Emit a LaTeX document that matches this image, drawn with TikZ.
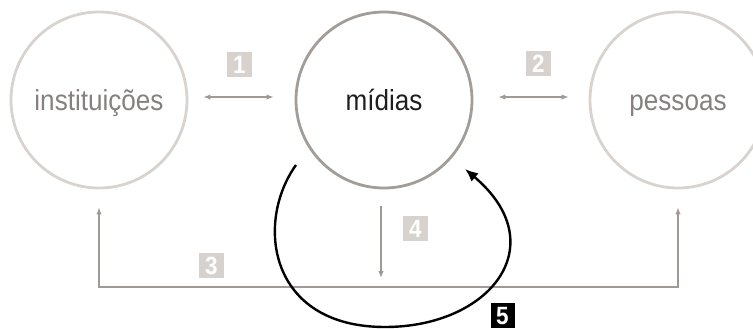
\documentclass[tikz,border=0pt]{standalone}
\usepackage{fontspec}
\setmainfont{Liberation Sans}
\newfontfamily\labelfont[FakeStretch=0.9]{Liberation Sans}
\usetikzlibrary{arrows.meta,calc}
\definecolor{lightring}{HTML}{D9D3CF}
\definecolor{midring}{HTML}{A39D99}
\definecolor{graytext}{HTML}{868080}
\definecolor{darktext}{HTML}{1E1E1E}
\definecolor{arrowgray}{HTML}{A09A96}
\definecolor{tagfill}{HTML}{D8D2CE}
\begin{document}
\begin{tikzpicture}[x=1pt,y=-1pt,
  ring/.style={circle,minimum size=176pt,inner sep=0pt,line width=2.8pt,
    font=\labelfont\fontsize{29}{32}\selectfont,text height=21pt,text depth=0pt},
  tag/.style={fill=tagfill,text=white,minimum width=25pt,minimum height=25pt,
    inner sep=0pt,font=\labelfont\fontsize{25}{28}\selectfont\bfseries,
    text height=18pt,text depth=0pt},
  thin arrow/.style={draw=arrowgray,line width=1.3pt,
    {Latex[length=7pt,width=5.5pt]}-{Latex[length=7pt,width=5.5pt]}},
  down arrow/.style={draw=arrowgray,line width=1.3pt,-{Latex[length=7pt,width=5.5pt]}},
  loop arrow/.style={draw=black,line width=2.4pt,-{Latex[length=13pt,width=11pt]}}
]
\useasboundingbox (0,0) rectangle (753,329);
\node[ring,draw=lightring,text=graytext] (inst) at (99,100) {instituições};
\node[ring,draw=midring,text=darktext] (mid) at (384,100) {mídias};
\node[ring,draw=lightring,text=graytext] (pes) at (678,100) {pessoas};

\node[tag] (t1) at (239.5,65) {1};
\node[tag] (t2) at (538.5,64) {2};
\node[tag] (t3) at (211.5,265.5) {3};
\node[tag] (t4) at (415.5,228.5) {4};
\node[tag,fill=black,minimum width=24pt,minimum height=25pt] (t5) at (502.5,315.5) {5};

\coordinate (base) at (381,287);

% arrow 1 and 2
\draw[thin arrow] ($(inst.east)+(15,-3)$) -- ($(mid.west)+(-21,-3)$);
\draw[thin arrow] ($(mid.east)+(25,-3)$) -- ($(pes.west)+(-20,-3)$);
% arrow 3
\draw[thin arrow] ([yshift=-18pt]inst.south) -- (inst.south |- base) -- (pes.south |- base) -- ([yshift=-18pt]pes.south);
% arrow 4
\draw[down arrow] ([xshift=-3pt,yshift=-17pt]mid.south) -- ([yshift=9pt]base);
% loop 5
\coordinate (l5s) at (296,165);
\coordinate (l5e) at (465,169);
\draw[loop arrow] (l5s) .. controls (255,222) and (268,327) .. (385,327)
  .. controls (490,327) and (555,245) .. (l5e);
\end{tikzpicture}
\end{document}
